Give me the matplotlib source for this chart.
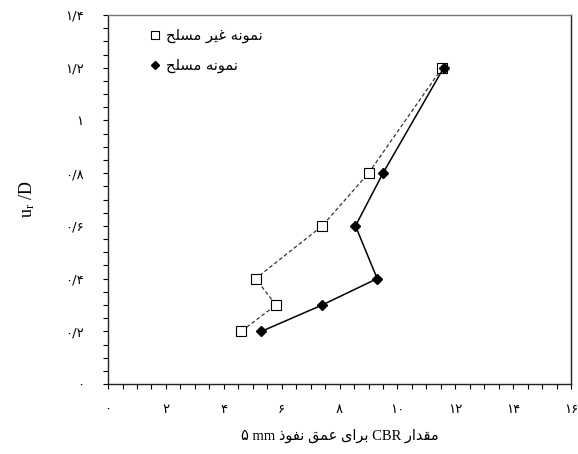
import matplotlib
matplotlib.use("Agg")
import matplotlib.pyplot as plt
from matplotlib.lines import Line2D
from matplotlib.ticker import MultipleLocator

# data
y_depth = [1.2, 0.8, 0.6, 0.4, 0.3, 0.2]
cbr_unreinf = [11.55, 9.0, 7.4, 5.1, 5.8, 4.6]
cbr_reinf = [11.6, 9.5, 8.55, 9.3, 7.4, 5.3]

x_ticks = [0, 2, 4, 6, 8, 10, 12, 14, 16]
x_ticklabels = ['۰', '۲', '۴', '۶', '۸', '۱۰', '۱۲', '۱۴', '۱۶']
y_ticks = [0, 0.2, 0.4, 0.6, 0.8, 1.0, 1.2, 1.4]
y_ticklabels = ['۰', '۰/۲', '۰/۴', '۰/۶', '۰/۸', '۱', '۱/۲', '۱/۴']

# minimal arabic shaping (matplotlib has no RTL / joining support)
forms = {
    'ا': (0xFE8D, 0xFE8E), 'ب': (0xFE8F, 0xFE90, 0xFE91, 0xFE92),
    'ح': (0xFEA1, 0xFEA2, 0xFEA3, 0xFEA4), 'د': (0xFEA9, 0xFEAA),
    'ذ': (0xFEAB, 0xFEAC), 'ر': (0xFEAD, 0xFEAE),
    'س': (0xFEB1, 0xFEB2, 0xFEB3, 0xFEB4), 'ع': (0xFEC9, 0xFECA, 0xFECB, 0xFECC),
    'غ': (0xFECD, 0xFECE, 0xFECF, 0xFED0), 'ف': (0xFED1, 0xFED2, 0xFED3, 0xFED4),
    'ق': (0xFED5, 0xFED6, 0xFED7, 0xFED8), 'ل': (0xFEDD, 0xFEDE, 0xFEDF, 0xFEE0),
    'م': (0xFEE1, 0xFEE2, 0xFEE3, 0xFEE4), 'ن': (0xFEE5, 0xFEE6, 0xFEE7, 0xFEE8),
    'ه': (0xFEE9, 0xFEEA, 0xFEEB, 0xFEEC), 'و': (0xFEED, 0xFEEE),
    'ی': (0xFEEF, 0xFEF0, 0xFEF3, 0xFEF4),
}

def shape_word(w):
    out = []
    for i, ch in enumerate(w):
        f = forms[ch]
        prev = i > 0 and len(forms[w[i - 1]]) == 4
        nxt = i < len(w) - 1 and len(f) == 4
        if prev and nxt:
            c = f[3]
        elif prev:
            c = f[1]
        elif nxt:
            c = f[2]
        else:
            c = f[0]
        out.append(chr(c))
    return ''.join(out[::-1])

def rtl(text):
    return ' '.join(shape_word(w) for w in text.split()[::-1])

label_unreinf = rtl('نمونه غیر مسلح')
label_reinf = rtl('نمونه مسلح')
xlabel = '۵ mm ' + rtl('برای عمق نفوذ') + ' CBR ' + rtl('مقدار')

fam = ['Liberation Serif', 'DejaVu Sans']

fig = plt.figure(figsize=(5.78, 4.54), dpi=100)
ax = fig.add_axes([0.187, 0.154, 0.801, 0.813])

ax.plot(cbr_unreinf, y_depth, color='#333333', linestyle=(0, (3, 2)), lw=0.9,
        marker='s', markersize=6.5, markerfacecolor='white', markeredgecolor='black',
        markeredgewidth=0.8)
ax.plot(cbr_reinf, y_depth, color='black', linestyle='-', lw=1.1,
        marker='D', markersize=5, markerfacecolor='black', markeredgecolor='black')

ax.set_xlim(0, 16)
ax.set_ylim(0, 1.4)
ax.set_xticks(x_ticks)
ax.set_xticklabels(x_ticklabels, family='DejaVu Sans', fontsize=9.5)
ax.set_yticks(y_ticks)
ax.set_yticklabels(y_ticklabels, family='DejaVu Sans', fontsize=9.5)
ax.xaxis.set_minor_locator(MultipleLocator(0.5))
ax.yaxis.set_minor_locator(MultipleLocator(0.05))
ax.tick_params(which='both', direction='out', length=3.5, width=0.8)
ax.tick_params(axis='x', pad=10)
ax.tick_params(axis='y', pad=14)

for s in ax.spines.values():
    s.set_linewidth(1.0)
    s.set_color('#222222')
ax.spines['top'].set_color('#777777')

ax.set_xlabel(xlabel, family=fam, fontsize=10.5, labelpad=9)
ax.set_ylabel(r'$\mathregular{u_r}$ /D', family='Liberation Serif', fontsize=13, labelpad=20)

handles = [
    Line2D([], [], linestyle='none', marker='s', markersize=6, markerfacecolor='white',
           markeredgecolor='black', markeredgewidth=0.8),
    Line2D([], [], linestyle='none', marker='D', markersize=4.5, color='black'),
]
ax.legend(handles, [label_unreinf, label_reinf], loc='upper left', frameon=False,
          bbox_to_anchor=(0.06, 1.0), handlelength=0.8, handletextpad=0.4,
          labelspacing=1.0, prop={'family': 'DejaVu Sans', 'size': 10.5})

fig.savefig('out.png', dpi=100)
